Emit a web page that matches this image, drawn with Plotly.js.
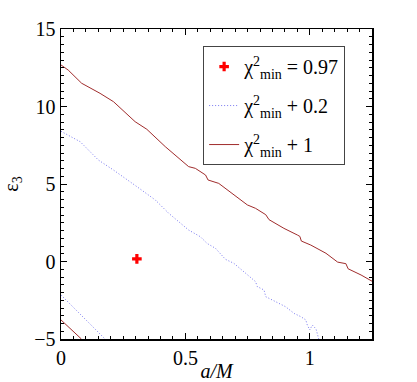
<!DOCTYPE html>
<html>
<head>
<meta charset="utf-8">
<script src="https://cdn.plot.ly/plotly-3.0.1.min.js"></script>
<style>html,body{margin:0;padding:0;background:#fff;}#chart{width:417px;height:382px;}</style>
</head>
<body>
<div id="chart"></div>
<script>
// Best-fit point
var minX = [0.305];
var minY = [0.17];

// chi2_min + 0.2 contour (upper branch)
var c02aX = [0.0, 0.03, 0.077, 0.150, 0.211, 0.305, 0.379, 0.433, 0.513, 0.560, 0.587, 0.621, 0.661, 0.695, 0.740, 0.782, 0.789, 0.816, 0.823, 0.850, 0.903, 0.937, 0.964, 0.984, 0.990, 1.000, 1.004, 1.010, 1.025, 1.030, 1.036];
var c02aY = [8.40, 8.15, 7.73, 6.55, 5.90, 4.83, 3.97, 3.11, 2.03, 1.60, 1.17, 0.85, 0.14, -0.12, -0.70, -1.30, -1.62, -1.84, -2.27, -2.48, -2.92, -3.35, -3.56, -3.77, -4.10, -4.42, -4.30, -4.10, -4.35, -4.74, -5.00];
// chi2_min + 0.2 contour (lower-left branch)
var c02bX = [0.0, 0.177];
var c02bY = [-2.16, -5.0];

// chi2_min + 1 contour (upper branch)
var c1aX = [0.0, 0.029, 0.083, 0.157, 0.211, 0.298, 0.345, 0.419, 0.513, 0.540, 0.581, 0.591, 0.634, 0.702, 0.749, 0.782, 0.823, 0.836, 0.896, 0.950, 0.960, 0.966, 1.004, 1.065, 1.112, 1.145, 1.150, 1.154, 1.206, 1.25];
var c1aY = [12.68, 12.35, 11.50, 10.85, 10.31, 9.02, 8.53, 7.41, 6.12, 6.01, 5.58, 5.26, 5.04, 4.19, 3.65, 3.43, 3.02, 2.70, 2.14, 1.71, 1.62, 1.32, 1.06, 0.53, -0.04, -0.14, -0.30, -0.47, -0.87, -1.27];
// chi2_min + 1 contour (lower-left branch)
var c1bX = [0.0, 0.082];
var c1bY = [-3.77, -5.0];

var names = ['χ<sup>2</sup><sub>min</sub> = 0.97', 'χ<sup>2</sup><sub>min</sub> + 0.2', 'χ<sup>2</sup><sub>min</sub> + 1'];

var red = '#a02c2c';
var blue = '#7878f0';
var serif = '"Liberation Serif", "Times New Roman", "DejaVu Serif", serif';

var traces = [
  {x: minX, y: minY, mode: 'markers', type: 'scatter', name: names[0],
   marker: {symbol: 'cross', size: 8, color: '#ff0000', line: {width: 0}}},
  {x: c02aX, y: c02aY, mode: 'lines', type: 'scatter', name: names[1], legendgroup: 'b',
   line: {color: blue, width: 1, dash: '1px,2px'}},
  {x: c02bX, y: c02bY, mode: 'lines', type: 'scatter', name: names[1], legendgroup: 'b', showlegend: false,
   line: {color: blue, width: 1, dash: '1px,2px'}},
  {x: c1aX, y: c1aY, mode: 'lines', type: 'scatter', name: names[2], legendgroup: 'r',
   line: {color: red, width: 1}},
  {x: c1bX, y: c1bY, mode: 'lines', type: 'scatter', name: names[2], legendgroup: 'r', showlegend: false,
   line: {color: red, width: 1}}
];

var axisCommon = {
  showline: true, linecolor: '#000', linewidth: 1.5, mirror: 'allticks',
  ticks: 'inside', ticklen: 6, tickwidth: 1, tickcolor: '#000',
  showgrid: false, zeroline: false,
  tickfont: {family: serif, size: 20, color: '#000'}
};

var layout = {
  width: 417, height: 382,
  margin: {l: 61, r: 45, t: 29, b: 43},
  paper_bgcolor: '#fff', plot_bgcolor: '#fff',
  font: {family: serif, color: '#000'},
  xaxis: Object.assign({}, axisCommon, {
    range: [0, 1.25], tickvals: [0, 0.5, 1], ticktext: ['0', '0.5', '1'],
    minor: {dtick: 0.05, ticks: 'inside', ticklen: 3, tickcolor: '#000', tickwidth: 1, showgrid: false},
    title: {text: '<i>a/M</i>', font: {family: serif, size: 20}, standoff: 2}
  }),
  yaxis: Object.assign({}, axisCommon, {
    range: [-5, 15], tickvals: [-5, 0, 5, 10, 15],
    minor: {dtick: 0.5, ticks: 'inside', ticklen: 3, tickcolor: '#000', tickwidth: 1, showgrid: false},
    title: {text: 'ε<sub>3</sub>', font: {family: serif, size: 20}, standoff: 14}
  }),
  showlegend: true,
  legend: {
    x: 0.457, y: 0.945, xanchor: 'left', yanchor: 'top',
    bgcolor: '#fff', bordercolor: '#444', borderwidth: 1,
    font: {family: serif, size: 20, color: '#000'}
  }
};

Plotly.newPlot('chart', traces, layout, {displayModeBar: false, staticPlot: true});
</script>
</body>
</html>
